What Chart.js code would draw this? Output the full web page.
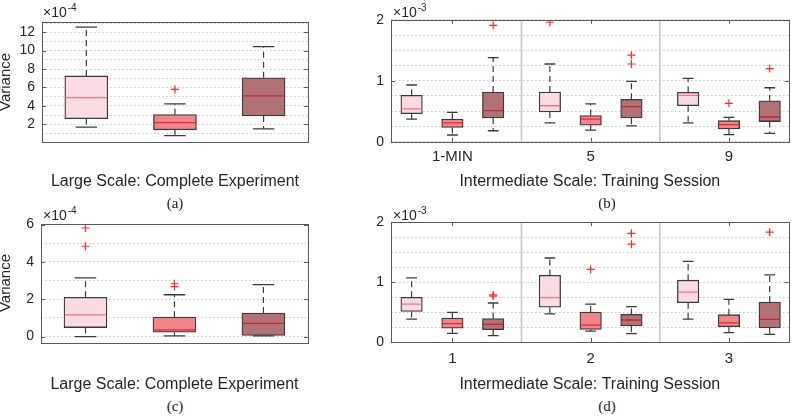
<!DOCTYPE html>
<html>
<head>
<meta charset="utf-8">
<script src="https://cdn.jsdelivr.net/npm/chart.js@4/dist/chart.umd.min.js"></script>
<style>
  html, body { margin: 0; padding: 0; background: #ffffff; }
  body { width: 800px; height: 416px; position: relative; overflow: hidden; font-family: "Liberation Sans", Arial, sans-serif; }
  canvas { position: absolute; }
  .cap { position: absolute; font-family: "Liberation Serif", "Times New Roman", serif; font-size: 15px; color: #222; transform: translate(-50%, -50%); white-space: nowrap; }
  .exp { position: absolute; font-size: 14px; color: #262626; line-height: 14px; white-space: nowrap; }
  .exp .sup { font-size: 10px; position: relative; top: -6px; margin-left: 1px; }
</style>
</head>
<body>
<canvas id="ca" width="330" height="195" style="left:0;top:0"></canvas>
<canvas id="cb" width="470" height="195" style="left:330px;top:0"></canvas>
<canvas id="cc" width="330" height="195" style="left:0;top:200px"></canvas>
<canvas id="cd" width="470" height="195" style="left:330px;top:200px"></canvas>

<div class="exp" style="left:43px;top:5px">×10<span class="sup">-4</span></div>
<div class="exp" style="left:393px;top:5px">×10<span class="sup">-3</span></div>
<div class="exp" style="left:43px;top:208px">×10<span class="sup">-4</span></div>
<div class="exp" style="left:393px;top:208px">×10<span class="sup">-3</span></div>

<div class="cap" style="left:175px;top:203px">(a)</div>
<div class="cap" style="left:607px;top:203px">(b)</div>
<div class="cap" style="left:175px;top:406px">(c)</div>
<div class="cap" style="left:607px;top:406px">(d)</div>

<script>
// ---------------- DATA ----------------
// Panel (a): Large Scale, values in units of 1e-4
const aLower    = [1.68, 0.75, 1.50];
const aQ1       = [2.61, 1.39, 2.90];
const aMedian   = [4.90, 2.18, 5.08];
const aQ3       = [7.25, 3.04, 7.04];
const aUpper    = [12.55, 4.22, 10.43];
const aOutliers = [[], [5.78], []];
const aYLabels  = [2, 4, 6, 8, 10, 12];

// Panel (b): Intermediate Scale, training sessions, values in units of 1e-3
const bGroups   = ['1-MIN', '5', '9'];
const bLower    = [0.37, 0.11, 0.18,   0.31, 0.19, 0.26,   0.31, 0.115, 0.137];
const bQ1       = [0.46, 0.235, 0.39,  0.487, 0.27, 0.39,  0.59, 0.21, 0.33];
const bMedian   = [0.54, 0.31, 0.51,   0.59, 0.37, 0.575,  0.76, 0.28, 0.405];
const bQ3       = [0.76, 0.37, 0.815,  0.815, 0.43, 0.695, 0.81, 0.345, 0.67];
const bUpper    = [0.93, 0.48, 1.38,   1.275, 0.62, 0.99,  1.04, 0.40, 0.885];
const bOutliers = [[], [], [1.91],  [1.96], [], [1.42, 1.275],  [], [0.63], [1.2]];
const bYLabels  = [0, 1, 2];

// Panel (c): Large Scale, values in units of 1e-4
const cLower    = [0.00, 0.04, 0.03];
const cQ1       = [0.48, 0.23, 0.06];
const cMedian   = [1.16, 0.36, 0.70];
const cQ3       = [2.10, 1.04, 1.26];
const cUpper    = [3.14, 2.24, 2.78];
const cOutliers = [[5.82, 4.84], [2.83, 2.68], []];
const cYLabels  = [0, 2, 4, 6];

// Panel (d): Intermediate Scale, training sessions, values in units of 1e-3
const dGroups   = ['1', '2', '3'];
const dLower    = [0.38, 0.145, 0.105,  0.47, 0.18, 0.14,   0.38, 0.155, 0.128];
const dQ1       = [0.51, 0.23, 0.205,   0.58, 0.21, 0.267,  0.655, 0.255, 0.233];
const dMedian   = [0.63, 0.305, 0.295,  0.74, 0.28, 0.367,  0.83, 0.32, 0.378];
const dQ3       = [0.745, 0.40, 0.39,   1.11, 0.50, 0.46,   1.03, 0.455, 0.667];
const dUpper    = [1.07, 0.495, 0.65,   1.40, 0.63, 0.59,   1.345, 0.71, 1.12];
const dOutliers = [[], [], [0.785, 0.765],  [], [1.21], [1.81, 1.63],  [], [], [1.83]];
const dYLabels  = [0, 1, 2];

// ---------------- STYLE ----------------
const BOX_FILL     = ['#fadbe3', '#f0868a', '#b07274'];
const MEDIAN_COLOR = ['#f07480', '#e62830', '#c8262e'];
const EDGE   = '#3a3a3a';
const FRAME  = '#5a5a5a';
const GRID   = '#c9c9c9';
const OUTLIER = '#ff2a2a';
const SEP    = '#c6c6c6';
const GROUP_OFFSET = 0.295;
const FONT = '"Liberation Sans", Arial, sans-serif';

Chart.defaults.font.family = FONT;
Chart.defaults.color = '#262626';

const innerTicks = {
  id: 'innerTicks',
  afterDraw(chart, args, opts) {
    const { ctx, chartArea: a, scales } = chart;
    const len = 4;
    ctx.save();
    ctx.strokeStyle = FRAME;
    ctx.lineWidth = 1;
    ctx.beginPath();
    scales.y.ticks.forEach(t => {
      if (!opts.yLabels.includes(t.value)) return;
      const y = Math.round(scales.y.getPixelForValue(t.value)) + 0.5;
      ctx.moveTo(a.left, y); ctx.lineTo(a.left + len, y);
      ctx.moveTo(a.right, y); ctx.lineTo(a.right - len, y);
    });
    scales.x.ticks.forEach(t => {
      const x = Math.round(scales.x.getPixelForValue(t.value)) + 0.5;
      ctx.moveTo(x, a.top); ctx.lineTo(x, a.top + len);
      ctx.moveTo(x, a.bottom); ctx.lineTo(x, a.bottom - len);
    });
    ctx.stroke();
    ctx.strokeRect(Math.round(a.left) + 0.5, Math.round(a.top) + 0.5, Math.round(a.width), Math.round(a.height));
    ctx.restore();
  }
};

function range(min, max, step) {
  const out = [];
  const start = Math.ceil(min / step - 1e-9);
  for (let k = start; k * step <= max + 1e-9; k++) out.push(+(k * step).toFixed(6));
  return out;
}

function makePanel(cfg) {
  const n = cfg.q1.length;
  const pos = cfg.positions;
  const colorIdx = i => i % 3;

  const whisker = [];
  const caps = [];
  const meds = [];
  const outs = [];
  for (let i = 0; i < n; i++) {
    whisker.push({ x: pos[i], y: cfg.q3[i] }, { x: pos[i], y: cfg.upper[i] }, { x: pos[i], y: null },
                 { x: pos[i], y: cfg.q1[i] }, { x: pos[i], y: cfg.lower[i] }, { x: pos[i], y: null });
    caps.push({ x: pos[i], y: cfg.upper[i] }, { x: pos[i], y: cfg.lower[i] });
    meds.push({ x: pos[i], y: cfg.median[i] });
    cfg.outliers[i].forEach(v => outs.push({ x: pos[i], y: v }));
  }

  const datasets = [];
  if (cfg.separators) {
    const sep = [];
    cfg.separators.forEach(s => sep.push({ x: s, y: cfg.yMin }, { x: s, y: cfg.yMax }, { x: s, y: null }));
    datasets.push({ type: 'line', data: sep, borderColor: SEP, borderWidth: 1.6, pointRadius: 0, order: 10 });
  }
  datasets.push({
    type: 'bar',
    data: pos.map((p, i) => ({ x: p, y: [cfg.q1[i], cfg.q3[i]] })),
    backgroundColor: pos.map((p, i) => BOX_FILL[colorIdx(i)]),
    borderColor: EDGE, borderWidth: 1.3, borderSkipped: false,
    barThickness: cfg.boxPx, order: 6
  });
  datasets.push({ type: 'line', data: whisker, borderColor: EDGE, borderWidth: 1.2, borderDash: [6, 4],
                  pointRadius: 0, order: 5 });
  datasets.push({ type: 'line', data: caps, showLine: false, pointStyle: 'line', pointRadius: cfg.boxPx / 4,
                  pointBorderColor: EDGE, pointBorderWidth: 1.3, order: 4 });
  datasets.push({ type: 'line', data: meds, showLine: false, pointStyle: 'line', pointRadius: cfg.boxPx / 2 - 0.7,
                  pointBorderColor: meds.map((m, i) => MEDIAN_COLOR[colorIdx(i)]), pointBorderWidth: 1.3, order: 2 });
  datasets.push({ type: 'line', data: outs, showLine: false, pointStyle: 'cross', pointRadius: 4,
                  pointBorderColor: OUTLIER, pointBorderWidth: 1.2, order: 1 });

  const yGrid = range(cfg.yMin, cfg.yMax, cfg.yStep);

  return new Chart(document.getElementById(cfg.id), {
    type: 'bar',
    data: { datasets },
    plugins: [innerTicks],
    options: {
      responsive: false, animation: false, devicePixelRatio: 1,
      layout: { padding: { top: cfg.padTop, right: cfg.padRight, left: 0, bottom: 0 } },
      plugins: {
        legend: { display: false }, tooltip: { enabled: false },
        innerTicks: { yLabels: cfg.yLabels }
      },
      scales: {
        x: {
          type: 'linear', min: cfg.xMin, max: cfg.xMax, offset: false,
          afterBuildTicks: s => { s.ticks = cfg.xTicks.map(v => ({ value: v })); },
          afterFit: s => { s.height = cfg.xHeight; },
          grid: { display: false, drawTicks: false },
          border: { display: false },
          ticks: { display: cfg.xTicks.length > 0, padding: cfg.xTickPad, font: { size: 15 }, color: '#262626',
                   maxRotation: 0, autoSkip: false,
                   callback: (v, i) => cfg.xLabels[i] },
          title: { display: true, text: cfg.xTitle, font: { size: 16 }, color: '#262626',
                   padding: { top: 0, bottom: cfg.xTitlePad } }
        },
        y: {
          type: 'linear', min: cfg.yMin, max: cfg.yMax,
          afterBuildTicks: s => { s.ticks = yGrid.map(v => ({ value: v })); },
          afterFit: s => { s.width = cfg.yWidth; },
          grid: { color: GRID, lineWidth: 1, drawTicks: false },
          border: { display: false, dash: [1.5, 2.5] },
          ticks: { padding: 7, font: { size: 14 }, color: '#262626', autoSkip: false,
                   callback: v => cfg.yLabels.includes(v) ? String(v) : '' },
          title: { display: !!cfg.yTitle, text: cfg.yTitle, font: { size: 15, lineHeight: 0.8 }, color: '#262626',
                   padding: { top: 0, bottom: 0 } }
        }
      }
    }
  });
}

const largePos = [1, 2, 3];
const groupPos = g => g.flatMap((name, gi) => [-1, 0, 1].map(k => gi + 1 + k * GROUP_OFFSET));

makePanel({ id: 'ca', lower: aLower, q1: aQ1, median: aMedian, q3: aQ3, upper: aUpper, outliers: aOutliers,
  positions: largePos, boxPx: 43, yMin: 0.1, yMax: 13.1, yStep: 1, yLabels: aYLabels,
  xMin: 0.5, xMax: 3.5, xTicks: [], xLabels: [], xTickPad: 7,
  xTitle: 'Large Scale: Complete Experiment', yTitle: 'Variance',
  padTop: 20.5, padRight: 2, yWidth: 42, xHeight: 53.3, xTitlePad: 4 });

makePanel({ id: 'cb', lower: bLower, q1: bQ1, median: bMedian, q3: bQ3, upper: bUpper, outliers: bOutliers,
  positions: groupPos(bGroups), boxPx: 21.5, yMin: 0, yMax: 2, yStep: 0.25, yLabels: bYLabels,
  xMin: 0.556, xMax: 3.432, xTicks: [1, 2, 3], xLabels: bGroups, xTickPad: 6.5, separators: [1.5, 2.5],
  xTitle: 'Intermediate Scale: Training Session', yTitle: '',
  padTop: 19.8, padRight: 2, yWidth: 61, xHeight: 53.3, xTitlePad: 4 });

makePanel({ id: 'cc', lower: cLower, q1: cQ1, median: cMedian, q3: cQ3, upper: cUpper, outliers: cOutliers,
  positions: largePos, boxPx: 43, yMin: -0.32, yMax: 6.06, yStep: 1, yLabels: cYLabels,
  xMin: 0.5, xMax: 3.5, xTicks: [], xLabels: [], xTickPad: 7,
  xTitle: 'Large Scale: Complete Experiment', yTitle: 'Variance',
  padTop: 23.5, padRight: 2, yWidth: 41, xHeight: 52.5, xTitlePad: 1 });

makePanel({ id: 'cd', lower: dLower, q1: dQ1, median: dMedian, q3: dQ3, upper: dUpper, outliers: dOutliers,
  positions: groupPos(dGroups), boxPx: 21.5, yMin: 0, yMax: 2, yStep: 0.25, yLabels: dYLabels,
  xMin: 0.556, xMax: 3.432, xTicks: [1, 2, 3], xLabels: dGroups, xTickPad: 8, separators: [1.5, 2.5],
  xTitle: 'Intermediate Scale: Training Session', yTitle: '',
  padTop: 22, padRight: 2, yWidth: 61, xHeight: 53, xTitlePad: 1 });
</script>
</body>
</html>
